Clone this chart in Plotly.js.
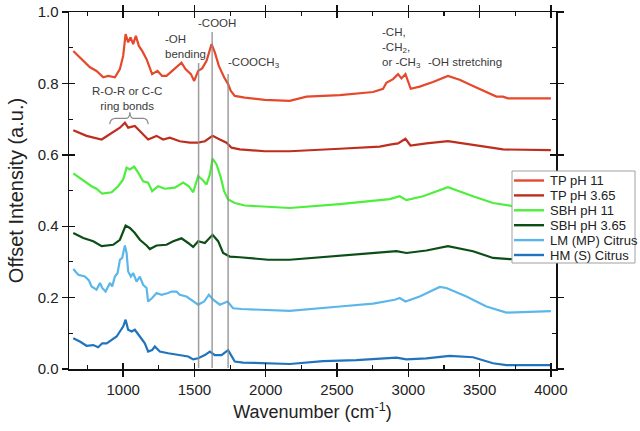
<!DOCTYPE html>
<html>
<head>
<meta charset="utf-8">
<script src="https://cdn.plot.ly/plotly-3.0.1.min.js"></script>
<style>html,body{margin:0;padding:0;background:#fff;}#chart{width:640px;height:431px;}</style>
</head>
<body>
<div id="chart"></div>
<script>
// ---- Data ----
const seriesNames = ["TP pH 11", "TP pH 3.65", "SBH pH 11", "SBH pH 3.65", "LM (MP) Citrus", "HM (S) Citrus"];

const wn_tp11 = [650,696,767,813,860,895,942,977,1000,1017,1035,1052,1070,1089,1110,1133,1164,1203,1241,1273,1304,1344,1386,1409,1437,1475,1498,1526,1554,1585,1620,1643,1671,1708,1736,1755,1783,1853,1993,2168,2286,2519,2753,2823,2846,2893,2928,2952,2980,3017,3080,3173,3278,3360,3454,3548,3618,3664,3699,4000];
const tp11 = [0.891,0.873,0.845,0.835,0.817,0.821,0.817,0.840,0.877,0.938,0.915,0.929,0.910,0.933,0.905,0.891,0.868,0.826,0.835,0.821,0.821,0.835,0.849,0.858,0.840,0.826,0.807,0.835,0.842,0.863,0.910,0.887,0.849,0.817,0.798,0.779,0.765,0.760,0.754,0.751,0.763,0.767,0.776,0.785,0.802,0.812,0.826,0.814,0.826,0.785,0.791,0.804,0.821,0.810,0.793,0.776,0.763,0.763,0.758,0.758];

const wn_tp365 = [650,743,849,942,977,1012,1035,1082,1117,1152,1175,1234,1280,1327,1397,1468,1526,1573,1627,1678,1725,1760,1818,1993,2168,2519,2799,2881,2928,2980,3015,3127,3278,3454,3664,4000];
const tp365 = [0.669,0.653,0.643,0.667,0.676,0.690,0.676,0.681,0.667,0.654,0.643,0.653,0.643,0.648,0.638,0.634,0.634,0.638,0.653,0.643,0.634,0.620,0.615,0.610,0.610,0.617,0.623,0.629,0.632,0.645,0.626,0.632,0.638,0.628,0.615,0.613];

const wn_sbh11 = [650,708,778,813,853,919,965,1000,1024,1047,1077,1105,1140,1175,1203,1245,1292,1362,1421,1461,1491,1526,1554,1585,1608,1627,1655,1685,1708,1736,1783,1853,2028,2168,2519,2753,2870,2940,2987,3103,3278,3454,3594,3734,4000];
const sbh11 = [0.548,0.531,0.512,0.505,0.491,0.495,0.512,0.531,0.564,0.559,0.567,0.550,0.526,0.522,0.498,0.512,0.505,0.508,0.522,0.512,0.495,0.540,0.531,0.517,0.545,0.589,0.573,0.536,0.498,0.475,0.465,0.458,0.454,0.451,0.462,0.470,0.476,0.484,0.473,0.484,0.509,0.484,0.465,0.456,0.455];

const wn_sbh365 = [650,720,790,849,930,977,1017,1047,1082,1117,1164,1187,1234,1304,1351,1409,1456,1491,1526,1573,1627,1666,1701,1748,1818,2017,2168,2519,2753,2917,2987,3127,3278,3454,3594,3711,4000];
const sbh365 = [0.381,0.367,0.358,0.344,0.348,0.362,0.402,0.395,0.381,0.362,0.346,0.336,0.346,0.348,0.358,0.366,0.353,0.342,0.358,0.353,0.376,0.358,0.325,0.315,0.313,0.306,0.306,0.317,0.323,0.330,0.325,0.332,0.344,0.330,0.311,0.308,0.308];

const wn_lm = [650,685,731,760,778,813,837,853,877,907,923,942,961,977,993,1012,1024,1035,1054,1070,1094,1117,1140,1164,1175,1203,1234,1269,1316,1339,1374,1397,1444,1491,1526,1568,1601,1631,1678,1732,1771,1830,2028,2168,2519,2753,2905,2940,2980,3080,3220,3267,3408,3548,3688,4000];
const lm = [0.280,0.264,0.259,0.248,0.231,0.222,0.241,0.227,0.217,0.241,0.231,0.259,0.269,0.306,0.311,0.346,0.325,0.273,0.259,0.269,0.245,0.259,0.236,0.227,0.189,0.199,0.213,0.208,0.213,0.217,0.217,0.208,0.203,0.189,0.180,0.189,0.208,0.194,0.180,0.189,0.170,0.168,0.166,0.163,0.175,0.183,0.194,0.199,0.189,0.203,0.230,0.227,0.203,0.175,0.158,0.162];

const wn_hm = [650,696,743,790,825,853,884,919,954,977,1000,1017,1035,1059,1082,1117,1152,1175,1203,1222,1257,1316,1386,1456,1491,1526,1573,1608,1643,1690,1736,1760,1783,1841,2005,2168,2402,2636,2917,2987,3127,3290,3454,3594,3688,4000];
const hm = [0.086,0.077,0.065,0.067,0.061,0.072,0.072,0.081,0.091,0.105,0.119,0.138,0.110,0.105,0.110,0.091,0.072,0.049,0.053,0.063,0.049,0.044,0.039,0.035,0.027,0.030,0.039,0.049,0.039,0.039,0.053,0.035,0.021,0.018,0.016,0.014,0.022,0.025,0.032,0.027,0.030,0.037,0.033,0.016,0.011,0.011];

// marker (band) lines
const band_wn = [1529, 1624, 1736];
const band_top = [0.857, 0.944, 0.826];

const xTickVals = [1000,1500,2000,2500,3000,3500,4000];
const yTickVals = [0.0,0.2,0.4,0.6,0.8,1.0];

// ---- Styling ----
const colors = ["#E5482B", "#BE2E1E", "#4DEE3C", "#0C4F16", "#5BB7EA", "#1F74BD"];
const FONT = "Arial, 'Liberation Sans', Helvetica, sans-serif";

const W = 640, H = 431;
const M = {l: 69, r: 84, t: 12, b: 62};
const PW = W - M.l - M.r, PH = H - M.t - M.b;
const px2paperX = px => (px - M.l) / PW;
const px2paperY = py => (H - M.b - py) / PH;

const xs = [wn_tp11, wn_tp365, wn_sbh11, wn_sbh365, wn_lm, wn_hm];
const ys = [tp11, tp365, sbh11, sbh365, lm, hm];

const traces = seriesNames.map((n, i) => ({
  type: "scatter", mode: "lines", name: n,
  x: xs[i], y: ys[i],
  line: {color: colors[i], width: 2.2, shape: "linear"},
  hoverinfo: "skip", showlegend: false
}));
// empty trace so the overlay axes (for crossing ticks) exist
traces.push({type: "scatter", mode: "lines", x: [], y: [], xaxis: "x2", yaxis: "y2", showlegend: false, hoverinfo: "skip"});

const shapes = band_wn.map((w, i) => ({
  type: "line", xref: "x", yref: "y", x0: w, x1: w, y0: 0.003, y1: band_top[i],
  line: {color: "rgba(140,140,140,0.85)", width: 1.5}, layer: "above"
}));
// curly brace under "ring bonds"
shapes.push({
  type: "path", xref: "x", yref: "y", layer: "above",
  path: "M 905,0.686 Q 912,0.702 945,0.702 L 1025,0.702 Q 1044,0.703 1047,0.719 Q 1050,0.703 1069,0.702 L 1140,0.702 Q 1170,0.702 1176,0.686",
  line: {color: "#8a8a8a", width: 1.2}
});

const annFont = {family: FONT, size: 11.5, color: "#3a3a3a"};
const annotations = [
  {x: 1655, y: 0.969, text: "-COOH", xanchor: "center"},
  {x: 1278, y: 0.903, text: "-OH<br>bending", xanchor: "left", align: "left"},
  {x: 1722, y: 0.856, text: "-COOCH<sub>3</sub>", xanchor: "left"},
  {x: 1026, y: 0.758, text: "R-O-R or C-C<br>ring bonds", xanchor: "center", align: "center"},
  {x: 2800, y: 0.899, text: "-CH,<br>-CH<sub>2</sub>,<br>or -CH<sub>3</sub>", xanchor: "left", align: "left"},
  {x: 3124, y: 0.859, text: "-OH stretching", xanchor: "left"}
].map(a => Object.assign({xref: "x", yref: "y", showarrow: false, yanchor: "middle", font: annFont}, a));

// ---- Legend box (drawn in paper coordinates, outside the data) ----
const LEG = {left: 512, right: 635, top: 171, bottom: 263, row0: 180.5, rowStep: 14.9, lineX0: 514, lineX1: 544, textX: 548};
shapes.push({
  type: "rect", xref: "paper", yref: "paper", layer: "above",
  x0: px2paperX(LEG.left), x1: px2paperX(LEG.right), y0: px2paperY(LEG.bottom), y1: px2paperY(LEG.top),
  fillcolor: "#ffffff", line: {color: "#a0a0a0", width: 1}
});
seriesNames.forEach((n, i) => {
  const py = LEG.row0 + i * LEG.rowStep;
  shapes.push({
    type: "line", xref: "paper", yref: "paper", layer: "above",
    x0: px2paperX(LEG.lineX0), x1: px2paperX(LEG.lineX1), y0: px2paperY(py), y1: px2paperY(py),
    line: {color: colors[i], width: 2.4}
  });
  annotations.push({
    xref: "paper", yref: "paper", x: px2paperX(LEG.textX), y: px2paperY(py),
    xanchor: "left", yanchor: "middle", showarrow: false, text: n,
    font: {family: FONT, size: 13, color: "#222"}
  });
});

const XR = [620, 4036];
const YR = [0, 1.0];

const layout = {
  width: W, height: H,
  margin: M,
  paper_bgcolor: "#ffffff", plot_bgcolor: "#ffffff",
  font: {family: FONT, color: "#222"},
  showlegend: false,
  xaxis: {
    range: XR, autorange: false,
    tickmode: "array", tickvals: xTickVals,
    ticks: "outside", ticklen: 6, tickwidth: 1.4, tickcolor: "#111",
    minor: {tickmode: "linear", tick0: 750, dtick: 500, ticks: "inside", ticklen: 4, tickwidth: 1.2, tickcolor: "#111", showgrid: false},
    showline: true, linecolor: "#111", linewidth: 1.5, mirror: "allticks",
    showgrid: false, zeroline: false,
    tickfont: {family: FONT, size: 15, color: "#222"},
    title: {text: "Wavenumber (cm<sup>-1</sup>)", font: {family: FONT, size: 18, color: "#222"}, standoff: 9}
  },
  yaxis: {
    range: YR, autorange: false,
    tickmode: "array", tickvals: yTickVals, tickformat: ".1f",
    ticks: "outside", ticklen: 6, tickwidth: 1.4, tickcolor: "#111",
    minor: {tickmode: "linear", tick0: 0.1, dtick: 0.2, ticks: "inside", ticklen: 4, tickwidth: 1.2, tickcolor: "#111", showgrid: false},
    showline: true, linecolor: "#111", linewidth: 1.5, mirror: "allticks",
    showgrid: false, zeroline: false,
    tickfont: {family: FONT, size: 15, color: "#222"},
    title: {text: "Offset Intensity (a.u.)", font: {family: FONT, size: 20, color: "#222"}, standoff: 8}
  },
  xaxis2: {
    overlaying: "x", anchor: "y2", range: XR, autorange: false,
    tickmode: "array", tickvals: xTickVals, ticks: "inside", ticklen: 6, tickwidth: 1.4, tickcolor: "#111",
    showticklabels: false, showline: false, mirror: "allticks", showgrid: false, zeroline: false
  },
  yaxis2: {
    overlaying: "y", anchor: "x2", range: YR, autorange: false,
    tickmode: "array", tickvals: yTickVals, ticks: "inside", ticklen: 6, tickwidth: 1.4, tickcolor: "#111",
    showticklabels: false, showline: false, mirror: "allticks", showgrid: false, zeroline: false
  },
  shapes: shapes,
  annotations: annotations
};

Plotly.newPlot("chart", traces, layout, {staticPlot: true, displayModeBar: false});
</script>
</body>
</html>
